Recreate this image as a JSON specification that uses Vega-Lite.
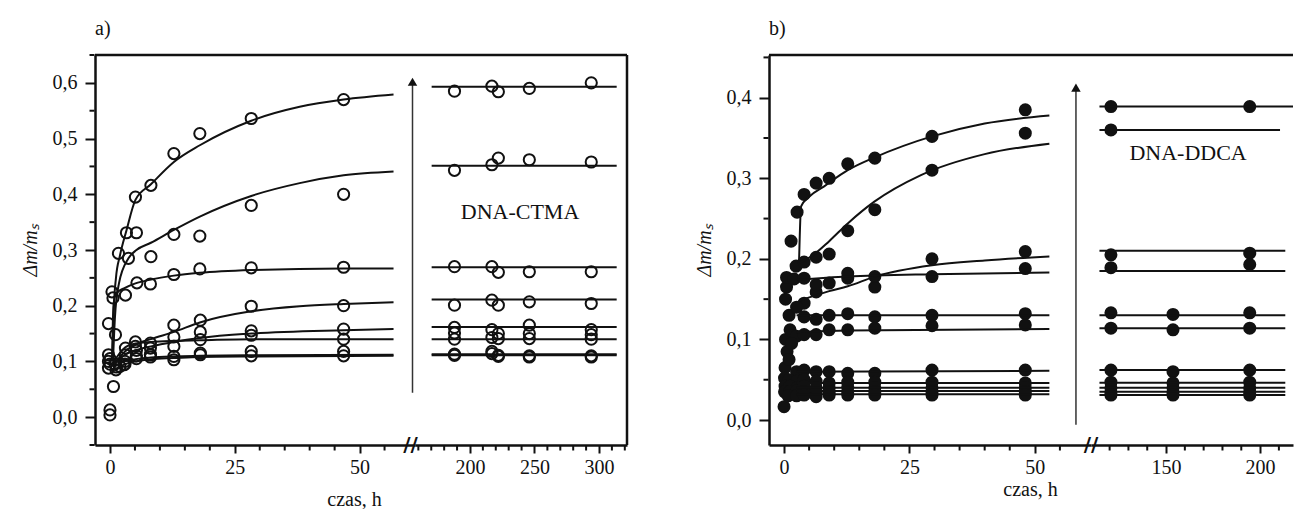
{
"$schema":"https://vega.github.io/schema/vega-lite/v6.json",
"padding":{"left":20,"top":18,"right":0,"bottom":0},
"autosize":{"type":"pad"},
"config":{"view":{"stroke":null},"font":"Liberation Serif",
"axis":{"domainColor":"#111","domainWidth":2.5,"tickColor":"#111","tickWidth":2,"labelFont":"Liberation Serif","labelFontSize":20,"labelColor":"#111","grid":false,"titleFont":"Liberation Serif","titleFontSize":20,"titleFontWeight":"normal","titleColor":"#111","labelOverlap":false},
"title":{"font":"Liberation Serif","fontSize":20,"fontWeight":"normal","color":"#111"}},
"datasets":{
"mn":[
{"g":"ALx","v":5},{"g":"ALx","v":10},{"g":"ALx","v":15},{"g":"ALx","v":20},{"g":"ALx","v":30},{"g":"ALx","v":35},{"g":"ALx","v":40},{"g":"ALx","v":45},{"g":"ALx","v":55},
{"g":"ALy","v":-0.05},{"g":"ALy","v":0.05},{"g":"ALy","v":0.15},{"g":"ALy","v":0.25},{"g":"ALy","v":0.35},{"g":"ALy","v":0.45},{"g":"ALy","v":0.55},{"g":"ALy","v":0.65},
{"g":"ARx","v":160},{"g":"ARx","v":170},{"g":"ARx","v":180},{"g":"ARx","v":190},{"g":"ARx","v":210},{"g":"ARx","v":220},{"g":"ARx","v":230},{"g":"ARx","v":240},{"g":"ARx","v":260},{"g":"ARx","v":270},{"g":"ARx","v":280},{"g":"ARx","v":290},{"g":"ARx","v":310},{"g":"ARx","v":320},
{"g":"BLx","v":5},{"g":"BLx","v":10},{"g":"BLx","v":15},{"g":"BLx","v":20},{"g":"BLx","v":30},{"g":"BLx","v":35},{"g":"BLx","v":40},{"g":"BLx","v":45},{"g":"BLx","v":55},
{"g":"BLy","v":0.05},{"g":"BLy","v":0.15},{"g":"BLy","v":0.25},{"g":"BLy","v":0.35},{"g":"BLy","v":0.45},
{"g":"BRx","v":120},{"g":"BRx","v":130},{"g":"BRx","v":140},{"g":"BRx","v":160},{"g":"BRx","v":170},{"g":"BRx","v":180},{"g":"BRx","v":190},{"g":"BRx","v":210}
],
"pts":[
{"p":"a","s":1,"t":0,"v":0.004},{"p":"a","s":1,"t":0.4,"v":0.225},{"p":"a","s":1,"t":1.7,"v":0.294},{"p":"a","s":1,"t":3.3,"v":0.331},{"p":"a","s":1,"t":5.1,"v":0.395},{"p":"a","s":1,"t":8.2,"v":0.416},{"p":"a","s":1,"t":12.8,"v":0.473},{"p":"a","s":1,"t":18,"v":0.509},{"p":"a","s":1,"t":28.3,"v":0.536},{"p":"a","s":1,"t":46.8,"v":0.57},
{"p":"a","s":2,"t":0,"v":0.013},{"p":"a","s":2,"t":0.6,"v":0.214},{"p":"a","s":2,"t":3.7,"v":0.285},{"p":"a","s":2,"t":5.3,"v":0.331},{"p":"a","s":2,"t":8.2,"v":0.288},{"p":"a","s":2,"t":12.8,"v":0.328},{"p":"a","s":2,"t":18,"v":0.325},{"p":"a","s":2,"t":28.3,"v":0.38},{"p":"a","s":2,"t":46.8,"v":0.4},
{"p":"a","s":3,"t":-0.3,"v":0.168},{"p":"a","s":3,"t":1.1,"v":0.148},{"p":"a","s":3,"t":3.1,"v":0.219},{"p":"a","s":3,"t":5.4,"v":0.241},{"p":"a","s":3,"t":8.1,"v":0.239},{"p":"a","s":3,"t":12.8,"v":0.256},{"p":"a","s":3,"t":18,"v":0.266},{"p":"a","s":3,"t":28.3,"v":0.268},{"p":"a","s":3,"t":46.8,"v":0.269},
{"p":"a","s":4,"t":-0.3,"v":0.112},{"p":"a","s":4,"t":1.2,"v":0.085},{"p":"a","s":4,"t":3.1,"v":0.124},{"p":"a","s":4,"t":5.1,"v":0.135},{"p":"a","s":4,"t":8.1,"v":0.133},{"p":"a","s":4,"t":12.8,"v":0.165},{"p":"a","s":4,"t":18.1,"v":0.174},{"p":"a","s":4,"t":28.3,"v":0.199},{"p":"a","s":4,"t":46.8,"v":0.2},
{"p":"a","s":5,"t":-0.3,"v":0.1},{"p":"a","s":5,"t":2,"v":0.091},{"p":"a","s":5,"t":3.1,"v":0.112},{"p":"a","s":5,"t":5.1,"v":0.127},{"p":"a","s":5,"t":8.1,"v":0.124},{"p":"a","s":5,"t":12.8,"v":0.144},{"p":"a","s":5,"t":18.1,"v":0.153},{"p":"a","s":5,"t":28.3,"v":0.155},{"p":"a","s":5,"t":46.8,"v":0.158},
{"p":"a","s":6,"t":-0.3,"v":0.088},{"p":"a","s":6,"t":0.7,"v":0.055},{"p":"a","s":6,"t":2.8,"v":0.094},{"p":"a","s":6,"t":5.3,"v":0.12},{"p":"a","s":6,"t":8.1,"v":0.112},{"p":"a","s":6,"t":12.8,"v":0.127},{"p":"a","s":6,"t":18.1,"v":0.139},{"p":"a","s":6,"t":28.3,"v":0.147},{"p":"a","s":6,"t":46.8,"v":0.14},
{"p":"a","s":7,"t":0,"v":0.105},{"p":"a","s":7,"t":1,"v":0.095},{"p":"a","s":7,"t":3,"v":0.1},{"p":"a","s":7,"t":5.3,"v":0.11},{"p":"a","s":7,"t":8.1,"v":0.112},{"p":"a","s":7,"t":12.8,"v":0.109},{"p":"a","s":7,"t":18.1,"v":0.115},{"p":"a","s":7,"t":28.3,"v":0.118},{"p":"a","s":7,"t":46.8,"v":0.118},
{"p":"a","s":8,"t":0,"v":0.095},{"p":"a","s":8,"t":1.3,"v":0.09},{"p":"a","s":8,"t":3,"v":0.095},{"p":"a","s":8,"t":5.3,"v":0.105},{"p":"a","s":8,"t":8.1,"v":0.108},{"p":"a","s":8,"t":12.8,"v":0.103},{"p":"a","s":8,"t":18.1,"v":0.112},{"p":"a","s":8,"t":28.3,"v":0.11},{"p":"a","s":8,"t":46.8,"v":0.11},
{"p":"a","s":1,"t":188,"v":0.585},{"p":"a","s":1,"t":217,"v":0.594},{"p":"a","s":1,"t":222,"v":0.584},{"p":"a","s":1,"t":246,"v":0.59},{"p":"a","s":1,"t":294,"v":0.6},
{"p":"a","s":2,"t":188,"v":0.443},{"p":"a","s":2,"t":217,"v":0.453},{"p":"a","s":2,"t":222,"v":0.465},{"p":"a","s":2,"t":246,"v":0.462},{"p":"a","s":2,"t":294,"v":0.458},
{"p":"a","s":3,"t":188,"v":0.27},{"p":"a","s":3,"t":217,"v":0.27},{"p":"a","s":3,"t":222,"v":0.26},{"p":"a","s":3,"t":246,"v":0.261},{"p":"a","s":3,"t":294,"v":0.261},
{"p":"a","s":4,"t":188,"v":0.201},{"p":"a","s":4,"t":217,"v":0.21},{"p":"a","s":4,"t":222,"v":0.201},{"p":"a","s":4,"t":246,"v":0.207},{"p":"a","s":4,"t":294,"v":0.204},
{"p":"a","s":5,"t":188,"v":0.161},{"p":"a","s":5,"t":217,"v":0.157},{"p":"a","s":5,"t":222,"v":0.15},{"p":"a","s":5,"t":246,"v":0.165},{"p":"a","s":5,"t":294,"v":0.157},{"p":"a","s":5,"t":188,"v":0.151},{"p":"a","s":5,"t":246,"v":0.15},{"p":"a","s":5,"t":294,"v":0.148},
{"p":"a","s":6,"t":188,"v":0.14},{"p":"a","s":6,"t":217,"v":0.143},{"p":"a","s":6,"t":222,"v":0.141},{"p":"a","s":6,"t":246,"v":0.141},{"p":"a","s":6,"t":294,"v":0.14},
{"p":"a","s":7,"t":188,"v":0.113},{"p":"a","s":7,"t":217,"v":0.118},{"p":"a","s":7,"t":222,"v":0.109},{"p":"a","s":7,"t":246,"v":0.108},{"p":"a","s":7,"t":294,"v":0.108},
{"p":"a","s":8,"t":188,"v":0.111},{"p":"a","s":8,"t":217,"v":0.114},{"p":"a","s":8,"t":222,"v":0.111},{"p":"a","s":8,"t":246,"v":0.11},{"p":"a","s":8,"t":294,"v":0.11},
{"p":"b","s":1,"t":1.4,"v":0.222},{"p":"b","s":1,"t":2.6,"v":0.258},{"p":"b","s":1,"t":4,"v":0.28},{"p":"b","s":1,"t":6.4,"v":0.294},{"p":"b","s":1,"t":9,"v":0.3},{"p":"b","s":1,"t":12.7,"v":0.318},{"p":"b","s":1,"t":18.1,"v":0.325},{"p":"b","s":1,"t":29.5,"v":0.352},{"p":"b","s":1,"t":48.1,"v":0.385},{"p":"b","s":1,"t":120.7,"v":0.389},{"p":"b","s":1,"t":194.5,"v":0.389},
{"p":"b","s":2,"t":2.4,"v":0.191},{"p":"b","s":2,"t":4,"v":0.196},{"p":"b","s":2,"t":6.4,"v":0.202},{"p":"b","s":2,"t":9,"v":0.206},{"p":"b","s":2,"t":12.7,"v":0.235},{"p":"b","s":2,"t":18.1,"v":0.261},{"p":"b","s":2,"t":29.5,"v":0.31},{"p":"b","s":2,"t":48.1,"v":0.356},{"p":"b","s":2,"t":120.7,"v":0.36},
{"p":"b","s":3,"t":0.5,"v":0.165},{"p":"b","s":3,"t":4,"v":0.145},{"p":"b","s":3,"t":6.4,"v":0.159},{"p":"b","s":3,"t":9,"v":0.17},{"p":"b","s":3,"t":12.7,"v":0.176},{"p":"b","s":3,"t":18.1,"v":0.165},{"p":"b","s":3,"t":29.5,"v":0.2},{"p":"b","s":3,"t":48.1,"v":0.209},{"p":"b","s":3,"t":120.7,"v":0.205},{"p":"b","s":3,"t":194.5,"v":0.207},
{"p":"b","s":4,"t":0.5,"v":0.177},{"p":"b","s":4,"t":2,"v":0.175},{"p":"b","s":4,"t":4,"v":0.176},{"p":"b","s":4,"t":6.4,"v":0.168},{"p":"b","s":4,"t":12.7,"v":0.182},{"p":"b","s":4,"t":18.1,"v":0.178},{"p":"b","s":4,"t":29.5,"v":0.178},{"p":"b","s":4,"t":48.1,"v":0.188},{"p":"b","s":4,"t":120.7,"v":0.189},{"p":"b","s":4,"t":194.5,"v":0.193},
{"p":"b","s":5,"t":0.3,"v":0.15},{"p":"b","s":5,"t":1,"v":0.13},{"p":"b","s":5,"t":2.5,"v":0.14},{"p":"b","s":5,"t":4,"v":0.128},{"p":"b","s":5,"t":6.4,"v":0.125},{"p":"b","s":5,"t":9,"v":0.13},{"p":"b","s":5,"t":12.7,"v":0.132},{"p":"b","s":5,"t":18.1,"v":0.128},{"p":"b","s":5,"t":29.5,"v":0.13},{"p":"b","s":5,"t":48.1,"v":0.132},{"p":"b","s":5,"t":120.7,"v":0.133},{"p":"b","s":5,"t":153.7,"v":0.131},{"p":"b","s":5,"t":194.5,"v":0.133},
{"p":"b","s":6,"t":0.3,"v":0.1},{"p":"b","s":6,"t":1.2,"v":0.112},{"p":"b","s":6,"t":2.5,"v":0.104},{"p":"b","s":6,"t":4,"v":0.106},{"p":"b","s":6,"t":6.4,"v":0.106},{"p":"b","s":6,"t":9,"v":0.112},{"p":"b","s":6,"t":12.7,"v":0.112},{"p":"b","s":6,"t":18.1,"v":0.114},{"p":"b","s":6,"t":29.5,"v":0.117},{"p":"b","s":6,"t":48.1,"v":0.118},{"p":"b","s":6,"t":120.7,"v":0.114},{"p":"b","s":6,"t":153.7,"v":0.112},{"p":"b","s":6,"t":194.5,"v":0.114},{"p":"b","s":6,"t":0.6,"v":0.085},{"p":"b","s":6,"t":1.5,"v":0.095},
{"p":"b","s":7,"t":0.2,"v":0.065},{"p":"b","s":7,"t":1,"v":0.075},{"p":"b","s":7,"t":2.5,"v":0.06},{"p":"b","s":7,"t":4,"v":0.062},{"p":"b","s":7,"t":6.4,"v":0.06},{"p":"b","s":7,"t":9,"v":0.06},{"p":"b","s":7,"t":12.7,"v":0.058},{"p":"b","s":7,"t":18.1,"v":0.058},{"p":"b","s":7,"t":29.5,"v":0.062},{"p":"b","s":7,"t":48.1,"v":0.062},{"p":"b","s":7,"t":120.7,"v":0.062},{"p":"b","s":7,"t":153.7,"v":0.06},{"p":"b","s":7,"t":194.5,"v":0.062},
{"p":"b","s":8,"t":0.1,"v":0.052},{"p":"b","s":8,"t":1,"v":0.05},{"p":"b","s":8,"t":2.5,"v":0.048},{"p":"b","s":8,"t":4,"v":0.05},{"p":"b","s":8,"t":6.4,"v":0.048},{"p":"b","s":8,"t":9,"v":0.046},{"p":"b","s":8,"t":12.7,"v":0.047},{"p":"b","s":8,"t":18.1,"v":0.047},{"p":"b","s":8,"t":29.5,"v":0.047},{"p":"b","s":8,"t":48.1,"v":0.046},{"p":"b","s":8,"t":120.7,"v":0.047},{"p":"b","s":8,"t":153.7,"v":0.046},{"p":"b","s":8,"t":194.5,"v":0.047},
{"p":"b","s":9,"t":0.2,"v":0.042},{"p":"b","s":9,"t":1.2,"v":0.042},{"p":"b","s":9,"t":2.6,"v":0.04},{"p":"b","s":9,"t":4,"v":0.042},{"p":"b","s":9,"t":6.4,"v":0.04},{"p":"b","s":9,"t":9,"v":0.04},{"p":"b","s":9,"t":12.7,"v":0.041},{"p":"b","s":9,"t":18.1,"v":0.04},{"p":"b","s":9,"t":29.5,"v":0.04},{"p":"b","s":9,"t":48.1,"v":0.04},{"p":"b","s":9,"t":120.7,"v":0.04},{"p":"b","s":9,"t":153.7,"v":0.04},{"p":"b","s":9,"t":194.5,"v":0.04},
{"p":"b","s":10,"t":0.1,"v":0.035},{"p":"b","s":10,"t":1.1,"v":0.035},{"p":"b","s":10,"t":2.5,"v":0.036},{"p":"b","s":10,"t":4,"v":0.035},{"p":"b","s":10,"t":6.4,"v":0.034},{"p":"b","s":10,"t":9,"v":0.035},{"p":"b","s":10,"t":12.7,"v":0.035},{"p":"b","s":10,"t":18.1,"v":0.035},{"p":"b","s":10,"t":29.5,"v":0.035},{"p":"b","s":10,"t":48.1,"v":0.035},{"p":"b","s":10,"t":120.7,"v":0.035},{"p":"b","s":10,"t":153.7,"v":0.035},{"p":"b","s":10,"t":194.5,"v":0.035},
{"p":"b","s":11,"t":0,"v":0.0165},{"p":"b","s":11,"t":0.8,"v":0.03},{"p":"b","s":11,"t":2.5,"v":0.03},{"p":"b","s":11,"t":4,"v":0.031},{"p":"b","s":11,"t":6.4,"v":0.029},{"p":"b","s":11,"t":9,"v":0.031},{"p":"b","s":11,"t":12.7,"v":0.031},{"p":"b","s":11,"t":18.1,"v":0.031},{"p":"b","s":11,"t":29.5,"v":0.031},{"p":"b","s":11,"t":48.1,"v":0.031},{"p":"b","s":11,"t":120.7,"v":0.031},{"p":"b","s":11,"t":153.7,"v":0.031},{"p":"b","s":11,"t":194.5,"v":0.031}
],
"cur":[
{"p":"a","s":1,"t":0.5,"v":0.1},{"p":"a","s":1,"t":0.8,"v":0.2},{"p":"a","s":1,"t":1.2,"v":0.25},{"p":"a","s":1,"t":2,"v":0.29},{"p":"a","s":1,"t":3.3,"v":0.335},{"p":"a","s":1,"t":5.1,"v":0.39},{"p":"a","s":1,"t":8.2,"v":0.418},{"p":"a","s":1,"t":12.8,"v":0.458},{"p":"a","s":1,"t":18,"v":0.488},{"p":"a","s":1,"t":28.3,"v":0.532},{"p":"a","s":1,"t":38,"v":0.557},{"p":"a","s":1,"t":46.8,"v":0.57},{"p":"a","s":1,"t":56.8,"v":0.579},
{"p":"a","s":2,"t":0.6,"v":0.1},{"p":"a","s":2,"t":1,"v":0.18},{"p":"a","s":2,"t":1.8,"v":0.24},{"p":"a","s":2,"t":3.7,"v":0.285},{"p":"a","s":2,"t":5.3,"v":0.3},{"p":"a","s":2,"t":8.2,"v":0.313},{"p":"a","s":2,"t":12.8,"v":0.336},{"p":"a","s":2,"t":18,"v":0.36},{"p":"a","s":2,"t":28.3,"v":0.397},{"p":"a","s":2,"t":38,"v":0.42},{"p":"a","s":2,"t":46.8,"v":0.434},{"p":"a","s":2,"t":56.8,"v":0.441},
{"p":"a","s":3,"t":0.4,"v":0.1},{"p":"a","s":3,"t":0.7,"v":0.2},{"p":"a","s":3,"t":1.2,"v":0.222},{"p":"a","s":3,"t":3,"v":0.232},{"p":"a","s":3,"t":5.1,"v":0.24},{"p":"a","s":3,"t":8.2,"v":0.247},{"p":"a","s":3,"t":12.8,"v":0.254},{"p":"a","s":3,"t":18,"v":0.259},{"p":"a","s":3,"t":28.3,"v":0.264},{"p":"a","s":3,"t":46.8,"v":0.267},{"p":"a","s":3,"t":56.8,"v":0.267},
{"p":"a","s":4,"t":0.8,"v":0.095},{"p":"a","s":4,"t":3,"v":0.118},{"p":"a","s":4,"t":5.1,"v":0.13},{"p":"a","s":4,"t":8.2,"v":0.14},{"p":"a","s":4,"t":12.8,"v":0.153},{"p":"a","s":4,"t":18,"v":0.17},{"p":"a","s":4,"t":28.3,"v":0.19},{"p":"a","s":4,"t":38,"v":0.199},{"p":"a","s":4,"t":46.8,"v":0.203},{"p":"a","s":4,"t":56.8,"v":0.206},
{"p":"a","s":5,"t":0.8,"v":0.095},{"p":"a","s":5,"t":3,"v":0.112},{"p":"a","s":5,"t":5.1,"v":0.12},{"p":"a","s":5,"t":8.2,"v":0.127},{"p":"a","s":5,"t":12.8,"v":0.135},{"p":"a","s":5,"t":18,"v":0.142},{"p":"a","s":5,"t":28.3,"v":0.15},{"p":"a","s":5,"t":46.8,"v":0.156},{"p":"a","s":5,"t":56.8,"v":0.158},
{"p":"a","s":6,"t":0.8,"v":0.1},{"p":"a","s":6,"t":3,"v":0.125},{"p":"a","s":6,"t":5.1,"v":0.132},{"p":"a","s":6,"t":8.2,"v":0.135},{"p":"a","s":6,"t":12.8,"v":0.137},{"p":"a","s":6,"t":18,"v":0.138},{"p":"a","s":6,"t":28.3,"v":0.14},{"p":"a","s":6,"t":56.8,"v":0.14},
{"p":"a","s":7,"t":0.8,"v":0.09},{"p":"a","s":7,"t":3,"v":0.1},{"p":"a","s":7,"t":5.1,"v":0.104},{"p":"a","s":7,"t":8.2,"v":0.107},{"p":"a","s":7,"t":12.8,"v":0.109},{"p":"a","s":7,"t":18,"v":0.11},{"p":"a","s":7,"t":28.3,"v":0.111},{"p":"a","s":7,"t":56.8,"v":0.112},
{"p":"a","s":8,"t":0.8,"v":0.085},{"p":"a","s":8,"t":3,"v":0.095},{"p":"a","s":8,"t":5.1,"v":0.1},{"p":"a","s":8,"t":8.2,"v":0.104},{"p":"a","s":8,"t":12.8,"v":0.106},{"p":"a","s":8,"t":18,"v":0.108},{"p":"a","s":8,"t":28.3,"v":0.109},{"p":"a","s":8,"t":56.8,"v":0.11},
{"p":"b","s":1,"t":3,"v":0.198},{"p":"b","s":1,"t":3.4,"v":0.265},{"p":"b","s":1,"t":5,"v":0.277},{"p":"b","s":1,"t":8,"v":0.29},{"p":"b","s":1,"t":12.7,"v":0.31},{"p":"b","s":1,"t":18.1,"v":0.326},{"p":"b","s":1,"t":29.5,"v":0.352},{"p":"b","s":1,"t":40,"v":0.368},{"p":"b","s":1,"t":52.9,"v":0.378},
{"p":"b","s":2,"t":3,"v":0.195},{"p":"b","s":2,"t":5.4,"v":0.203},{"p":"b","s":2,"t":9,"v":0.222},{"p":"b","s":2,"t":12.7,"v":0.244},{"p":"b","s":2,"t":18,"v":0.271},{"p":"b","s":2,"t":27.3,"v":0.304},{"p":"b","s":2,"t":40,"v":0.33},{"p":"b","s":2,"t":52.9,"v":0.343},
{"p":"b","s":3,"t":3,"v":0.148},{"p":"b","s":3,"t":9,"v":0.16},{"p":"b","s":3,"t":12.7,"v":0.166},{"p":"b","s":3,"t":18.1,"v":0.178},{"p":"b","s":3,"t":29.5,"v":0.192},{"p":"b","s":3,"t":40,"v":0.198},{"p":"b","s":3,"t":52.9,"v":0.203},
{"p":"b","s":4,"t":2.5,"v":0.174},{"p":"b","s":4,"t":12.7,"v":0.178},{"p":"b","s":4,"t":29.5,"v":0.181},{"p":"b","s":4,"t":52.9,"v":0.183},
{"p":"b","s":5,"t":2.5,"v":0.13},{"p":"b","s":5,"t":52.9,"v":0.13},
{"p":"b","s":6,"t":2.5,"v":0.109},{"p":"b","s":6,"t":12.7,"v":0.111},{"p":"b","s":6,"t":52.9,"v":0.113},
{"p":"b","s":7,"t":2.5,"v":0.06},{"p":"b","s":7,"t":52.9,"v":0.061},
{"p":"b","s":8,"t":2.5,"v":0.046},{"p":"b","s":8,"t":52.9,"v":0.046},
{"p":"b","s":9,"t":2.5,"v":0.04},{"p":"b","s":9,"t":52.9,"v":0.04},
{"p":"b","s":10,"t":2.5,"v":0.036},{"p":"b","s":10,"t":52.9,"v":0.036},
{"p":"b","s":11,"t":2.5,"v":0.032},{"p":"b","s":11,"t":52.9,"v":0.032}
],
"hl":[
{"p":"a","s":1,"t1":170.3,"t2":313.7,"v":0.593},{"p":"a","s":2,"t1":170.3,"t2":313.7,"v":0.451},{"p":"a","s":3,"t1":170.3,"t2":313.7,"v":0.269},{"p":"a","s":4,"t1":170.3,"t2":313.7,"v":0.211},{"p":"a","s":5,"t1":170.3,"t2":313.7,"v":0.162},{"p":"a","s":6,"t1":170.3,"t2":313.7,"v":0.14},{"p":"a","s":7,"t1":170.3,"t2":313.7,"v":0.113},{"p":"a","s":8,"t1":170.3,"t2":313.7,"v":0.111},
{"p":"b","s":1,"t1":114.6,"t2":217.5,"v":0.389},{"p":"b","s":2,"t1":114.6,"t2":210.6,"v":0.36},{"p":"b","s":3,"t1":114.6,"t2":213.4,"v":0.21},{"p":"b","s":4,"t1":114.6,"t2":213.4,"v":0.185},{"p":"b","s":5,"t1":114.6,"t2":213.4,"v":0.13},{"p":"b","s":6,"t1":114.6,"t2":213.4,"v":0.114},{"p":"b","s":7,"t1":114.6,"t2":213.4,"v":0.062},{"p":"b","s":8,"t1":114.6,"t2":213.4,"v":0.0463},{"p":"b","s":9,"t1":114.6,"t2":213.4,"v":0.04},{"p":"b","s":10,"t1":114.6,"t2":213.4,"v":0.035},{"p":"b","s":11,"t1":114.6,"t2":213.4,"v":0.031}
]},
"hconcat":[
{"title":{"text":"a)","anchor":"start","frame":"group","offset":15},
"spacing":0,"bounds":"flush",
"hconcat":[
{"width":320,"height":390,"layer":[
{"data":{"name":"pts"},"transform":[{"filter":"datum.p=='a' && datum.t<100"}],"mark":{"type":"point","shape":"circle","filled":false,"color":"#111","strokeWidth":2,"size":125,"opacity":1},
"encoding":{"x":{"field":"t","type":"quantitative","scale":{"domain":[-3,61.1],"nice":false,"zero":false},
"axis":{"values":[0,25,50],"tickSize":8,"labelPadding":4,"labelOverlap":false,"labelFlush":false,"title":"czas, h","titleX":259,"titleY":60,"titleAlign":"center","titleBaseline":"alphabetic"}},
"y":{"field":"v","type":"quantitative","scale":{"domain":[-0.05,0.65],"nice":false,"zero":false},
"axis":{"values":[0,0.1,0.2,0.3,0.4,0.5,0.6],"labelExpr":"replace(format(datum.value,'.1f'),'.',',')","tickSize":10,"labelPadding":8,"labelOverlap":false,"labelFlush":false,"title":"Δm/mₛ","titleFontStyle":"italic","titlePadding":12}}}},
{"data":{"name":"cur"},"transform":[{"filter":"datum.p=='a'"}],"mark":{"type":"line","interpolate":"monotone","color":"#111","strokeWidth":2},
"encoding":{"x":{"field":"t","type":"quantitative","scale":{"domain":[-3,61.1],"nice":false,"zero":false}},"y":{"field":"v","type":"quantitative","scale":{"domain":[-0.05,0.65],"nice":false,"zero":false}},"detail":{"field":"s"}}},
{"data":{"name":"mn"},"transform":[{"filter":"datum.g=='ALx'"}],"mark":{"type":"tick","orient":"vertical","size":5,"thickness":2,"color":"#111","yOffset":3,"opacity":1},
"encoding":{"x":{"field":"v","type":"quantitative","scale":{"domain":[-3,61.1],"nice":false,"zero":false}},"y":{"datum":-0.05,"type":"quantitative","scale":{"domain":[-0.05,0.65],"nice":false,"zero":false}}}},
{"data":{"name":"mn"},"transform":[{"filter":"datum.g=='ALy'"}],"mark":{"type":"tick","orient":"horizontal","size":5,"thickness":2,"color":"#111","xOffset":-3,"opacity":1},
"encoding":{"y":{"field":"v","type":"quantitative","scale":{"domain":[-0.05,0.65],"nice":false,"zero":false}},"x":{"datum":-3,"type":"quantitative","scale":{"domain":[-3,61.1],"nice":false,"zero":false}}}},
{"data":{"values":[{}]},"mark":{"type":"rule","color":"#333","strokeWidth":1.5},
"encoding":{"x":{"datum":60.6,"type":"quantitative","scale":{"domain":[-3,61.1],"nice":false,"zero":false}},"y":{"datum":0.044,"type":"quantitative","scale":{"domain":[-0.05,0.65],"nice":false,"zero":false}},"y2":{"datum":0.602}}},
{"data":{"values":[{}]},"mark":{"type":"point","shape":"triangle-up","filled":true,"color":"#111","size":90,"opacity":1},
"encoding":{"x":{"datum":60.6,"type":"quantitative","scale":{"domain":[-3,61.1],"nice":false,"zero":false}},"y":{"datum":0.602,"type":"quantitative","scale":{"domain":[-0.05,0.65],"nice":false,"zero":false}}}},
{"data":{"values":[{}]},"mark":{"type":"rule","color":"#111","strokeWidth":2.5},
"encoding":{"y":{"datum":0.65,"type":"quantitative","scale":{"domain":[-0.05,0.65],"nice":false,"zero":false}}}},
{"data":{"values":[{}]},"mark":{"type":"text","text":"//","font":"DejaVu Sans","fontSize":20,"fontWeight":"bold","color":"#111","align":"center","baseline":"middle"},
"encoding":{"x":{"datum":60.2,"type":"quantitative","scale":{"domain":[-3,61.1],"nice":false,"zero":false}},"y":{"datum":-0.05,"type":"quantitative","scale":{"domain":[-0.05,0.65],"nice":false,"zero":false}}}}
]},
{"width":212,"height":390,"layer":[
{"data":{"name":"pts"},"transform":[{"filter":"datum.p=='a' && datum.t>100"}],"mark":{"type":"point","shape":"circle","filled":false,"color":"#111","strokeWidth":2,"size":125,"opacity":1},
"encoding":{"x":{"field":"t","type":"quantitative","scale":{"domain":[157.4,321.7],"nice":false,"zero":false},
"axis":{"values":[200,250,300],"tickSize":8,"labelPadding":4,"labelOverlap":false,"labelFlush":false,"title":null}},
"y":{"field":"v","type":"quantitative","scale":{"domain":[-0.05,0.65],"nice":false,"zero":false},"axis":null}}},
{"data":{"name":"hl"},"transform":[{"filter":"datum.p=='a'"}],"mark":{"type":"rule","color":"#111","strokeWidth":2},
"encoding":{"x":{"field":"t1","type":"quantitative","scale":{"domain":[157.4,321.7],"nice":false,"zero":false}},"x2":{"field":"t2"},"y":{"field":"v","type":"quantitative","scale":{"domain":[-0.05,0.65],"nice":false,"zero":false},"axis":null}}},
{"data":{"name":"mn"},"transform":[{"filter":"datum.g=='ARx'"}],"mark":{"type":"tick","orient":"vertical","size":5,"thickness":2,"color":"#111","yOffset":3,"opacity":1},
"encoding":{"x":{"field":"v","type":"quantitative","scale":{"domain":[157.4,321.7],"nice":false,"zero":false}},"y":{"datum":-0.05,"type":"quantitative","scale":{"domain":[-0.05,0.65],"nice":false,"zero":false},"axis":null}}},
{"data":{"values":[{}]},"mark":{"type":"text","text":"DNA-CTMA","font":"Liberation Serif","fontSize":22,"color":"#111","align":"center","baseline":"middle"},
"encoding":{"x":{"datum":238.8,"type":"quantitative","scale":{"domain":[157.4,321.7],"nice":false,"zero":false}},"y":{"datum":0.368,"type":"quantitative","scale":{"domain":[-0.05,0.65],"nice":false,"zero":false},"axis":null}}},
{"data":{"values":[{}]},"mark":{"type":"rule","color":"#111","strokeWidth":2.5},
"encoding":{"y":{"datum":0.65,"type":"quantitative","scale":{"domain":[-0.05,0.65],"nice":false,"zero":false},"axis":null}}},
{"data":{"values":[{}]},"mark":{"type":"rule","color":"#111","strokeWidth":2.5},
"encoding":{"x":{"datum":321.7,"type":"quantitative","scale":{"domain":[157.4,321.7],"nice":false,"zero":false}}}}
]}
]},
{"title":{"text":"b)","anchor":"start","frame":"group","offset":15},
"spacing":0,"bounds":"flush",
"hconcat":[
{"width":322,"height":390,"layer":[
{"data":{"name":"pts"},"transform":[{"filter":"datum.p=='b' && datum.t<100"}],"mark":{"type":"point","shape":"circle","filled":true,"color":"#111","size":170,"opacity":1},
"encoding":{"x":{"field":"t","type":"quantitative","scale":{"domain":[-3,61.2],"nice":false,"zero":false},
"axis":{"values":[0,25,50],"tickSize":8,"labelPadding":4,"labelOverlap":false,"labelFlush":false,"title":"czas, h","titleX":261,"titleY":50,"titleAlign":"center","titleBaseline":"alphabetic"}},
"y":{"field":"v","type":"quantitative","scale":{"domain":[-0.031,0.453],"nice":false,"zero":false},
"axis":{"values":[0,0.1,0.2,0.3,0.4],"labelExpr":"replace(format(datum.value,'.1f'),'.',',')","tickSize":10,"labelPadding":8,"labelOverlap":false,"labelFlush":false,"title":"Δm/mₛ","titleFontStyle":"italic","titlePadding":12}}}},
{"data":{"name":"cur"},"transform":[{"filter":"datum.p=='b'"}],"mark":{"type":"line","interpolate":"monotone","color":"#111","strokeWidth":2},
"encoding":{"x":{"field":"t","type":"quantitative","scale":{"domain":[-3,61.2],"nice":false,"zero":false}},"y":{"field":"v","type":"quantitative","scale":{"domain":[-0.031,0.453],"nice":false,"zero":false}},"detail":{"field":"s"}}},
{"data":{"name":"mn"},"transform":[{"filter":"datum.g=='BLx'"}],"mark":{"type":"tick","orient":"vertical","size":5,"thickness":2,"color":"#111","yOffset":3,"opacity":1},
"encoding":{"x":{"field":"v","type":"quantitative","scale":{"domain":[-3,61.2],"nice":false,"zero":false}},"y":{"datum":-0.031,"type":"quantitative","scale":{"domain":[-0.031,0.453],"nice":false,"zero":false}}}},
{"data":{"name":"mn"},"transform":[{"filter":"datum.g=='BLy'"}],"mark":{"type":"tick","orient":"horizontal","size":5,"thickness":2,"color":"#111","xOffset":-3,"opacity":1},
"encoding":{"y":{"field":"v","type":"quantitative","scale":{"domain":[-0.031,0.453],"nice":false,"zero":false}},"x":{"datum":-3,"type":"quantitative","scale":{"domain":[-3,61.2],"nice":false,"zero":false}}}},
{"data":{"values":[{}]},"mark":{"type":"rule","color":"#333","strokeWidth":1.5},
"encoding":{"x":{"datum":58.2,"type":"quantitative","scale":{"domain":[-3,61.2],"nice":false,"zero":false}},"y":{"datum":-0.006,"type":"quantitative","scale":{"domain":[-0.031,0.453],"nice":false,"zero":false}},"y2":{"datum":0.4126}}},
{"data":{"values":[{}]},"mark":{"type":"point","shape":"triangle-up","filled":true,"color":"#111","size":90,"opacity":1},
"encoding":{"x":{"datum":58.2,"type":"quantitative","scale":{"domain":[-3,61.2],"nice":false,"zero":false}},"y":{"datum":0.4126,"type":"quantitative","scale":{"domain":[-0.031,0.453],"nice":false,"zero":false}}}},
{"data":{"values":[{}]},"mark":{"type":"rule","color":"#111","strokeWidth":2.5},
"encoding":{"y":{"datum":0.453,"type":"quantitative","scale":{"domain":[-0.031,0.453],"nice":false,"zero":false}}}},
{"data":{"values":[{}]},"mark":{"type":"text","text":"//","font":"DejaVu Sans","fontSize":20,"fontWeight":"bold","color":"#111","align":"center","baseline":"middle"},
"encoding":{"x":{"datum":61.2,"type":"quantitative","scale":{"domain":[-3,61.2],"nice":false,"zero":false}},"y":{"datum":-0.031,"type":"quantitative","scale":{"domain":[-0.031,0.453],"nice":false,"zero":false}}}}
]},
{"width":202,"height":390,"layer":[
{"data":{"name":"pts"},"transform":[{"filter":"datum.p=='b' && datum.t>100"}],"mark":{"type":"point","shape":"circle","filled":true,"color":"#111","size":170,"opacity":1},
"encoding":{"x":{"field":"t","type":"quantitative","scale":{"domain":[110.1,217.5],"nice":false,"zero":false},
"axis":{"values":[150,200],"tickSize":8,"labelPadding":4,"labelOverlap":false,"labelFlush":false,"title":null}},
"y":{"field":"v","type":"quantitative","scale":{"domain":[-0.031,0.453],"nice":false,"zero":false},"axis":null}}},
{"data":{"name":"hl"},"transform":[{"filter":"datum.p=='b'"}],"mark":{"type":"rule","color":"#111","strokeWidth":2},
"encoding":{"x":{"field":"t1","type":"quantitative","scale":{"domain":[110.1,217.5],"nice":false,"zero":false}},"x2":{"field":"t2"},"y":{"field":"v","type":"quantitative","scale":{"domain":[-0.031,0.453],"nice":false,"zero":false},"axis":null}}},
{"data":{"name":"mn"},"transform":[{"filter":"datum.g=='BRx'"}],"mark":{"type":"tick","orient":"vertical","size":5,"thickness":2,"color":"#111","yOffset":3,"opacity":1},
"encoding":{"x":{"field":"v","type":"quantitative","scale":{"domain":[110.1,217.5],"nice":false,"zero":false}},"y":{"datum":-0.031,"type":"quantitative","scale":{"domain":[-0.031,0.453],"nice":false,"zero":false},"axis":null}}},
{"data":{"values":[{}]},"mark":{"type":"text","text":"DNA-DDCA","font":"Liberation Serif","fontSize":22,"color":"#111","align":"center","baseline":"middle"},
"encoding":{"x":{"datum":161.7,"type":"quantitative","scale":{"domain":[110.1,217.5],"nice":false,"zero":false}},"y":{"datum":0.331,"type":"quantitative","scale":{"domain":[-0.031,0.453],"nice":false,"zero":false},"axis":null}}},
{"data":{"values":[{}]},"mark":{"type":"rule","color":"#111","strokeWidth":2.5},
"encoding":{"y":{"datum":0.453,"type":"quantitative","scale":{"domain":[-0.031,0.453],"nice":false,"zero":false},"axis":null}}}
]}
]}
],
"spacing":65
}
